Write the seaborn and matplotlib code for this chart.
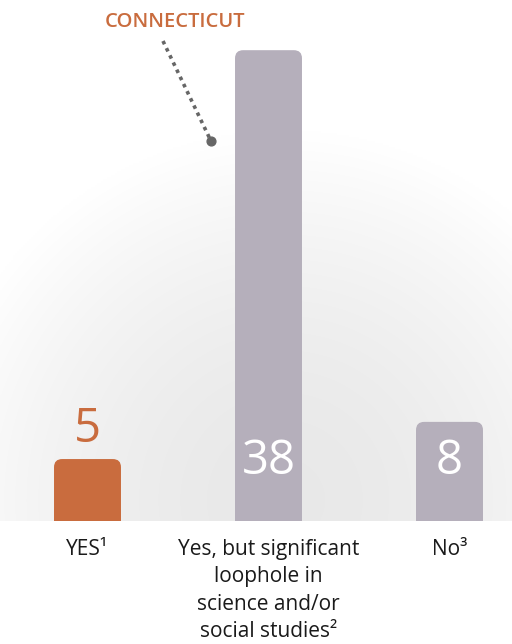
import numpy as np
import pandas as pd
import matplotlib
matplotlib.use("Agg")
import matplotlib.pyplot as plt
from matplotlib.patches import FancyBboxPatch
import seaborn as sns

# data
categories = ["YES\u00b9", "Yes, but significant\nloophole in\nscience and/or\nsocial studies\u00b2", "No\u00b3"]
counts = [5, 38, 8]
bar_colors = ["#C96C3E", "#B5AFBB", "#B5AFBB"]
label_colors = ["#C96C3E", "white", "white"]
label_inside = [False, True, True]

sns.set_theme(style="white")
plt.rcParams['font.family'] = ['Open Sans', 'DejaVu Sans']

df = pd.DataFrame({"category": categories, "count": counts})

fig = plt.figure(figsize=(5.12, 6.44), dpi=100)
ax = fig.add_axes([0, 123 / 644, 1, 521 / 644])

# soft radial background above the baseline
xlim = (-87.5 / 181, (512 - 87.5) / 181)
ylim = (0, 521 / 12.39)
gx, gy = np.meshgrid(np.linspace(0, 512, 256), np.linspace(0, 521, 260))
r = np.sqrt(((gx - 285) / 360) ** 2 + ((gy - 20) / 370) ** 2)
shade = 0.912 + 0.088 * np.clip(r, 0, 1) ** 1.8
ax.imshow(np.dstack([shade] * 3), extent=(xlim[0], xlim[1], ylim[0], ylim[1]),
          origin="lower", aspect="auto", zorder=0, interpolation="bilinear")

sns.barplot(data=df, x="category", y="count", hue="category", palette=bar_colors,
            legend=False, width=0.37, ax=ax, saturation=1, zorder=2)

# swap plain bars for ones with rounded top corners
for p, c in zip(list(ax.patches), bar_colors):
    x0, w, h = p.get_x(), p.get_width(), p.get_height()
    p.remove()
    rb = FancyBboxPatch((x0, 0), w, h, boxstyle="round,pad=0,rounding_size=0.045",
                        mutation_aspect=181 / 12.39, facecolor=c, edgecolor="none", zorder=2)
    ax.add_patch(rb)
    # square off the bottom corners
    ax.add_patch(plt.Rectangle((x0, 0), w, min(h, 1.0), facecolor=c, edgecolor="none", zorder=2))

for i, (v, lc, inside) in enumerate(zip(counts, label_colors, label_inside)):
    y = 2.9 if inside else v + 0.5
    ax.text(i, y, str(v), ha="center", va="bottom", fontsize=34, color=lc, zorder=3)

# Connecticut callout
ax.scatter([0.682], [30.67], s=40, color="#666666", zorder=4)
ax.plot([0.417, 0.682], [38.74, 30.67], linestyle=(0, (1, 1.2)), color="#666666", lw=2.6, zorder=4)
ax.text(0.483, 40.27, "CONNECTICUT", ha="center", va="center", fontsize=14.5,
        fontweight="semibold", color="#C96C3E")

ax.set_xlim(*xlim)
ax.set_ylim(*ylim)
ax.set_xlabel("")
ax.set_ylabel("")
ax.set_yticks([])
ax.tick_params(axis="x", length=0, pad=13, labelsize=15, labelcolor="#1a1a1a")
for lbl in ax.get_xticklabels():
    lbl.set_linespacing(1.39)
sns.despine(ax=ax, left=True, bottom=True)

fig.savefig("out.png", dpi=100, facecolor="white")
